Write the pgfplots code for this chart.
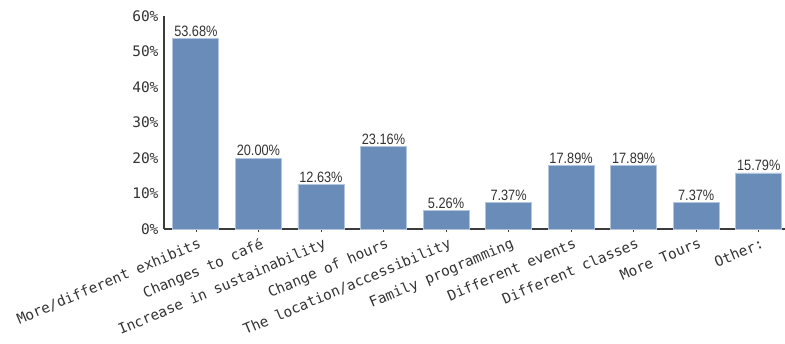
\documentclass[border=0pt]{standalone}
\usepackage{fontspec}
\setmainfont{Liberation Sans}
\newfontfamily\monofont{DejaVu Sans Mono}
\newfontfamily\valfont[FakeStretch=0.85]{Liberation Sans}
\usepackage{pgfplots}
\pgfplotsset{compat=1.18}
\definecolor{barblue}{HTML}{6A8CB9}
\definecolor{baredge}{HTML}{B3C6E0}
\definecolor{axisgray}{HTML}{3C3C3C}
\definecolor{textgray}{HTML}{333333}
\begin{document}
\begin{tikzpicture}
\path[use as bounding box] (-164bp,-115bp) rectangle (621bp,229bp);
\begin{axis}[
  at={(0,0)}, anchor=south west,
  scale only axis, width=621bp, height=213bp,
  ymin=0, ymax=60, xmin=-0.51, xmax=9.42,
  axis x line*=bottom, axis y line*=left,
  axis line style={-, axisgray, line width=1.6bp},
  ytick={0,10,...,60},
  yticklabel={\pgfmathprintnumber{\tick}\%},
  yticklabel style={font=\monofont\fontsize{14.5bp}{14.5bp}\selectfont, text=textgray, xshift=1bp},
  ytick style={draw=none},
  xtick=data,
  xticklabels={More/different exhibits, Changes to café, Increase in sustainability, Change of hours, The location/accessibility, Family programming, Different events, Different classes, More Tours, Other:},
  xticklabel style={font=\monofont\fontsize{14.3bp}{14.3bp}\selectfont, text=textgray, rotate=23, anchor=north east, yshift=-2bp, xshift=3bp},
  tick align=outside,
  major tick length=3bp,
  xtick style={axisgray, line width=0.6bp},
  /pgf/number format/assume math mode=true,
  clip=false,
]
\addplot[ybar, bar width=46bp, fill=barblue, draw=baredge, line width=0.8bp,
  nodes near coords={\pgfmathprintnumber[fixed,fixed zerofill,precision=2]{\pgfplotspointmeta}\%},
  nodes near coords style={font=\valfont\fontsize{15bp}{15bp}\selectfont, text=textgray, anchor=south, inner sep=1.5bp, /pgf/number format/assume math mode=true},
] coordinates {
  (0,53.68) (1,20.00) (2,12.63) (3,23.16) (4,5.26)
  (5,7.37) (6,17.89) (7,17.89) (8,7.37) (9,15.79)
};
\end{axis}
\end{tikzpicture}
\end{document}
